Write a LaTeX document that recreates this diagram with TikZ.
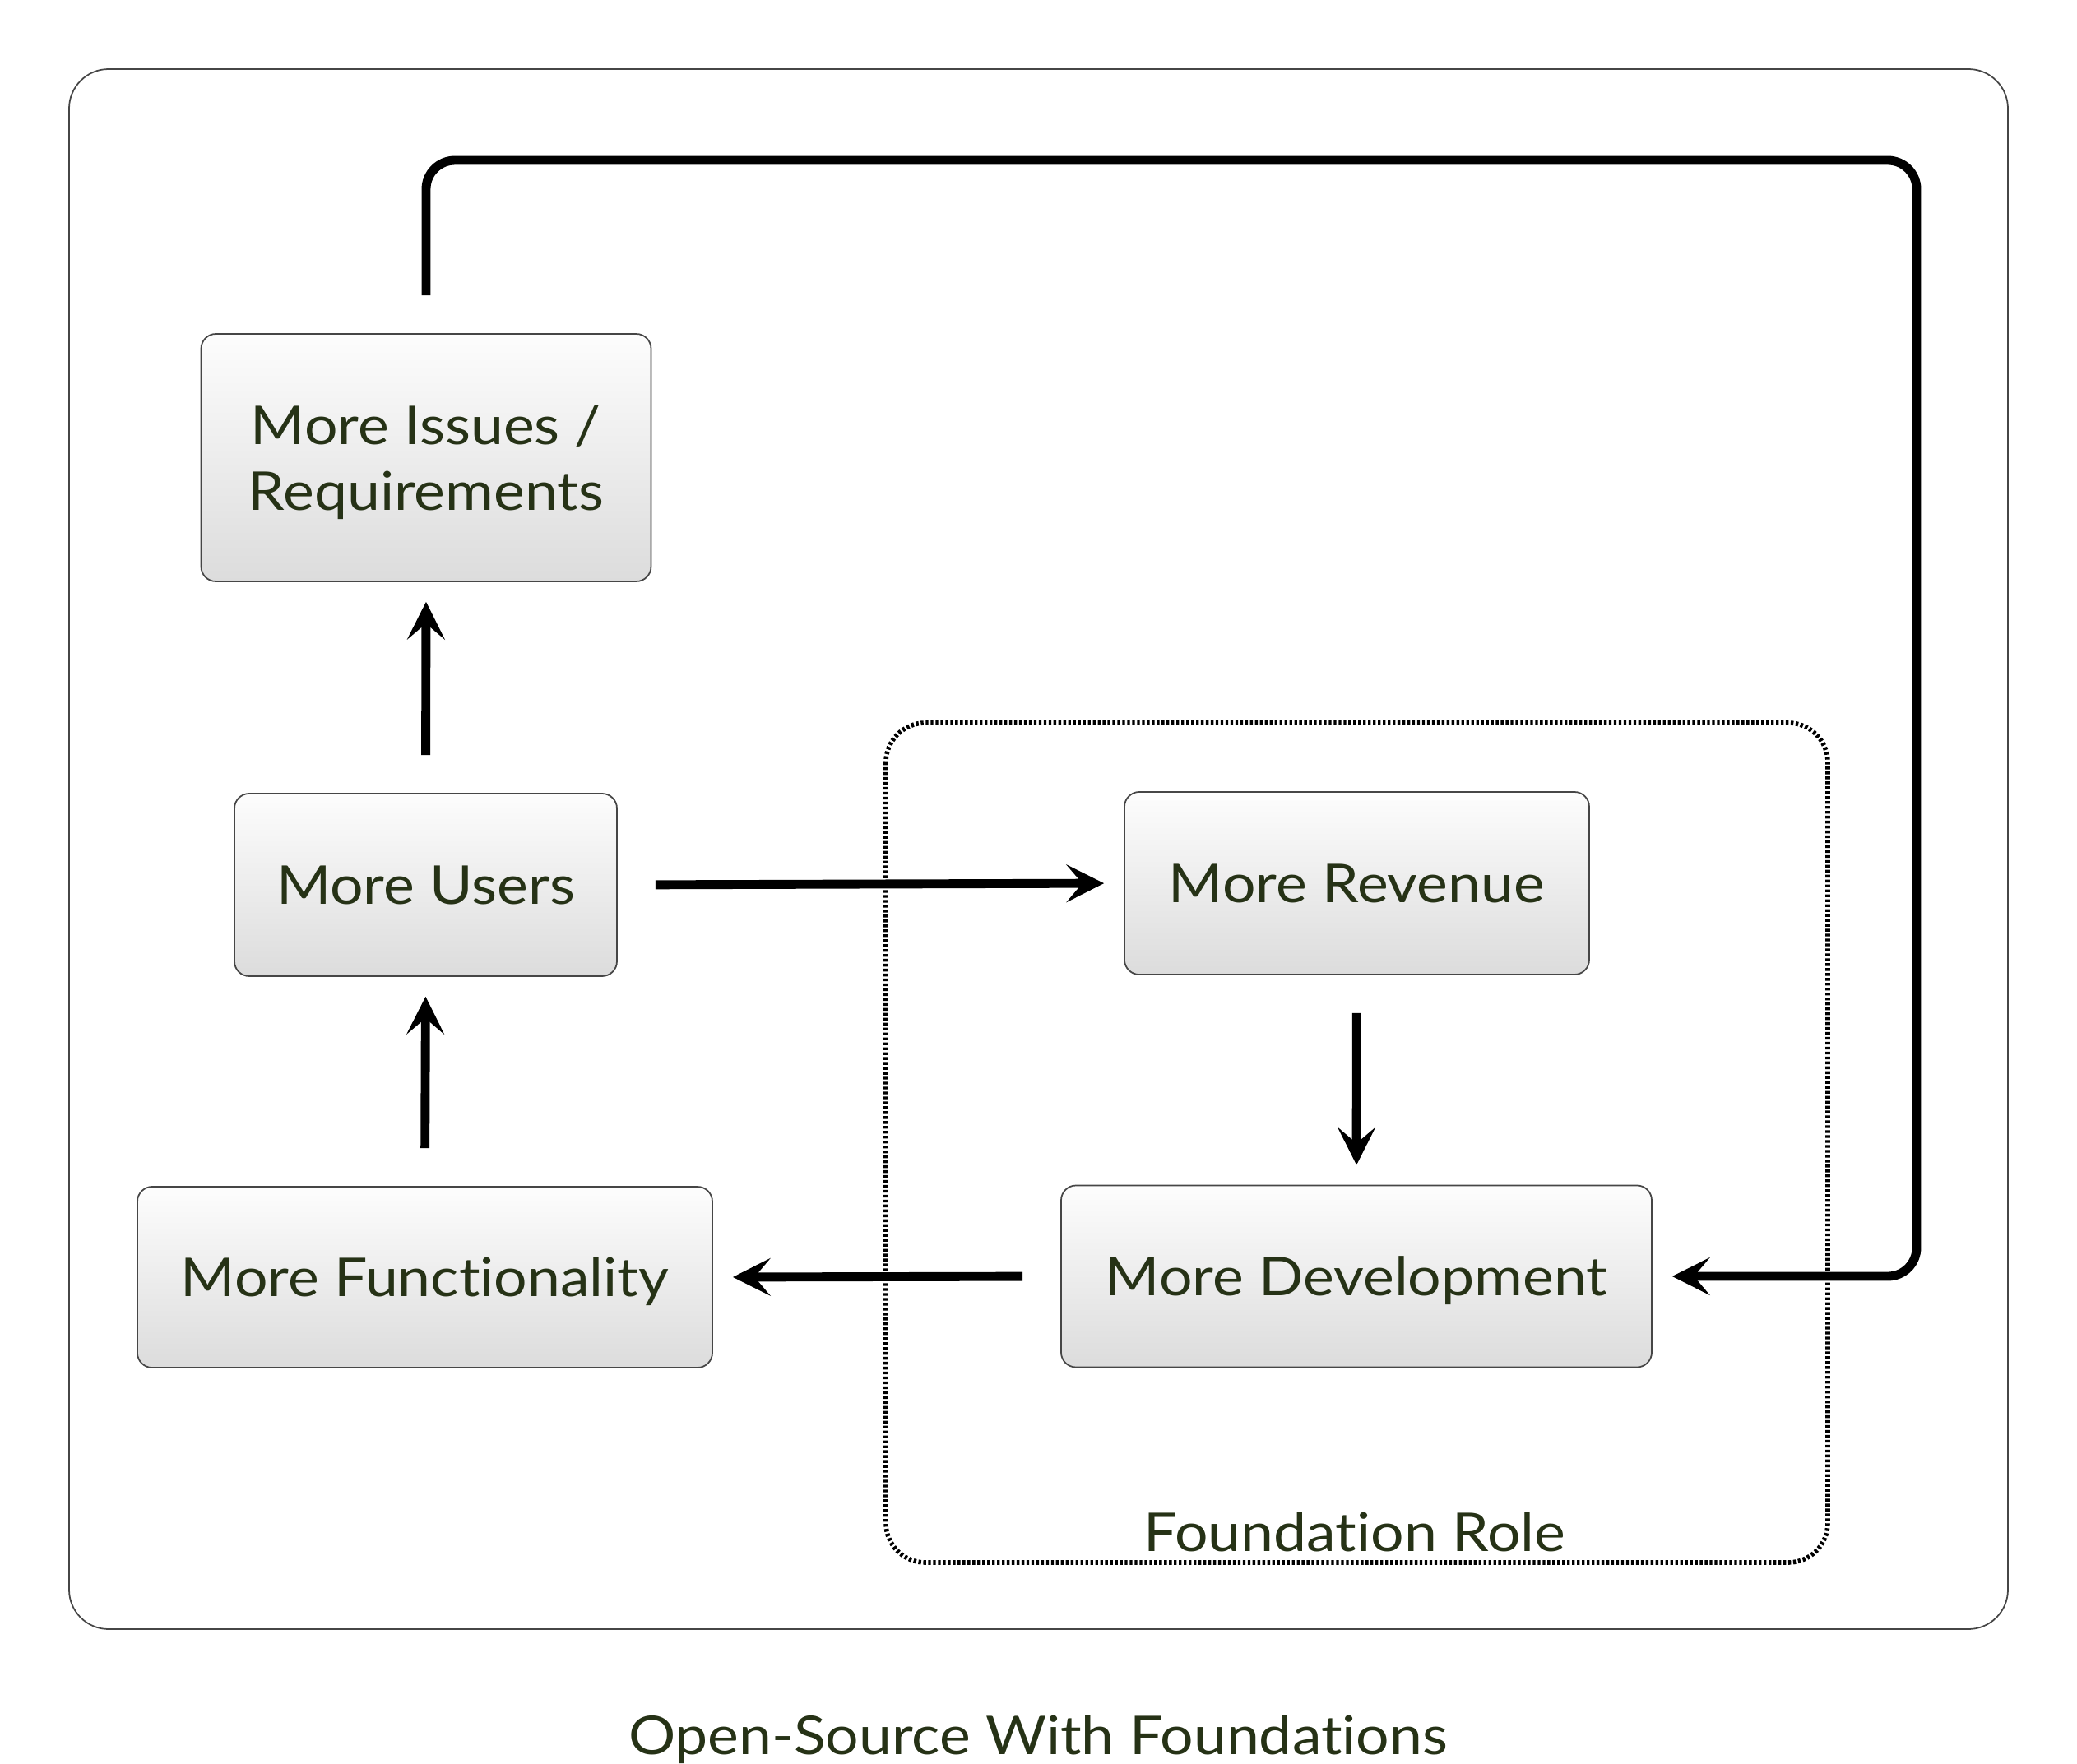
\documentclass[tikz,border=0pt]{standalone}
\usepackage{fontspec}
\setmainfont{Lato}[FakeStretch=1.1, Ligatures=NoCommon]
\usepackage{xcolor}
\definecolor{txtgreen}{RGB}{38,50,22}
\definecolor{boxtop}{RGB}{253,253,253}
\definecolor{boxbottom}{RGB}{220,220,220}
\definecolor{edgegray}{RGB}{70,70,70}
\usetikzlibrary{arrows.meta,positioning,calc}

\tikzset{
  stepbox/.style={draw=edgegray, line width=0.5pt, rounded corners=0.18cm,
    top color=boxtop, bottom color=boxbottom, text=txtgreen,
    font=\fontsize{18.5}{23}\selectfont, align=center, inner sep=0pt, text depth=0pt},
  flow/.style={line width=3.1pt, black,
    arrows={-Stealth[length=13pt, width=13pt, inset=5.5pt]},
    shorten <=0.46cm, shorten >=0.24cm},
  frame/.style={draw=edgegray, line width=0.5pt, rounded corners=0.48cm},
  rolebox/.style={draw=black, line width=1.6pt, dash pattern=on 0.95pt off 0.75pt, rounded corners=0.48cm},
  caption/.style={text=txtgreen, font=\fontsize{18.5}{23}\selectfont}
}

\begin{document}
\begin{tikzpicture}
\useasboundingbox (0,0) rectangle (25.25,-21.45);
% outer frame and foundation area
\draw[frame] (0.84,-0.84) rectangle (24.41,-19.81);
\draw[rolebox] (10.77,-8.79) rectangle (22.22,-19.00);
\node[caption] (role) at (16.47,-18.63) {Foundation Role};

% boxes
\node[stepbox, minimum width=5.47cm, minimum height=3.01cm] (issues) at (5.18,-5.565) {More Issues /\\Requirements};
\node[stepbox, minimum width=4.65cm, minimum height=2.22cm] (users) at (5.175,-10.76) {More Users};
\node[stepbox, minimum width=6.99cm, minimum height=2.20cm] (func) at (5.165,-15.53) {More Functionality};
\node[stepbox, minimum width=5.65cm, minimum height=2.22cm] (revenue) at (16.495,-10.74) {More Revenue};
\node[stepbox, minimum width=7.18cm, minimum height=2.21cm] (dev) at (16.49,-15.52) {More Development};

% the cycle
\draw[flow] (func.north) -- (users.south);
\draw[flow] (users.north) -- (issues.south);
\draw[flow] (users.east) -- (revenue.west);
\draw[flow] (revenue.south) -- (dev.north);
\draw[flow] (dev.west) -- (func.east);
\coordinate (loopcorner) at (23.30,-1.95);
\draw[flow, rounded corners=0.35cm] (issues.north) |- (loopcorner) |- (dev.east);

\node[caption] (title) at (12.62,-21.15) {Open-Source With Foundations};
\end{tikzpicture}
\end{document}
